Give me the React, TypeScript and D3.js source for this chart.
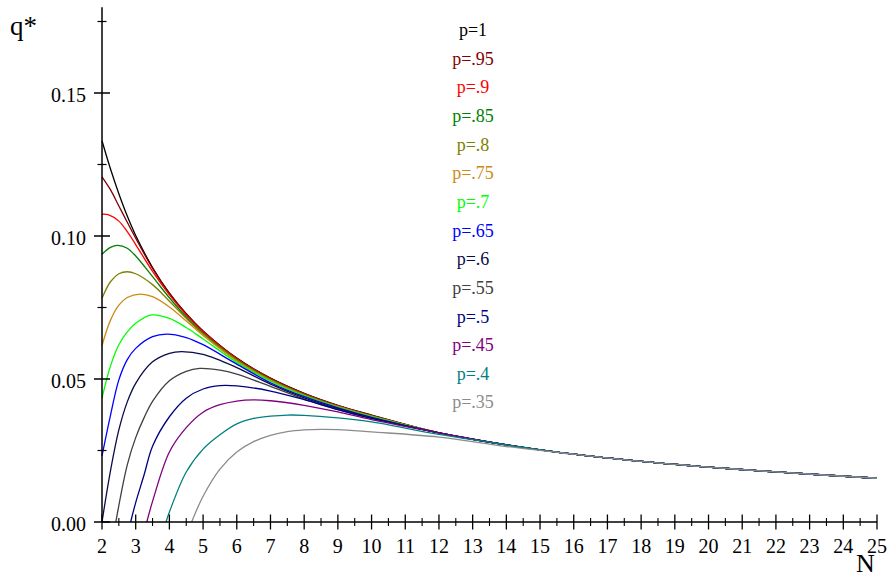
import React from "react";
import * as d3 from "d3";

type Pt = [number, number];

const legendLabels = ["p=1", "p=.95", "p=.9", "p=.85", "p=.8", "p=.75", "p=.7", "p=.65", "p=.6", "p=.55", "p=.5", "p=.45", "p=.4", "p=.35"];
const colors = ["#000000", "#800000", "#ff0000", "#008000", "#808000", "#cc8a14", "#00ff00", "#0000ff", "#0a0a4a", "#404040", "#000080", "#800080", "#008080", "#8c8c8c"];

const p100: Pt[] = [[2, .1333], [2.25, .1235], [2.5, .1148], [2.75, .1070], [3, .1002], [3.5, .0890], [4, .0800], [4.5, .0728], [5, .0668], [6, .0573], [7, .0503], [8, .0450], [9, .0408], [10, .0374]];
const p095: Pt[] = [[2, .1207], [2.25, .1162], [2.5, .1105], [2.75, .1048], [3, .0992], [3.5, .0887], [4, .0799], [4.5, .0727], [5, .0667], [6, .0572], [7, .0502], [8, .0449], [9, .0407], [10, .0373]];
const p090: Pt[] = [[2, .1076], [2.2, .1074], [2.5, .1052], [2.75, .1015], [3, .0970], [3.5, .0876], [4, .0794], [4.5, .0724], [5, .0665], [6, .0571], [7, .0501], [8, .0448], [9, .0406], [10, .0372]];
const p085: Pt[] = [[2, .0936], [2.25, .0960], [2.47, .0967], [2.75, .0957], [3, .0930], [3.5, .0858], [4, .0784], [4.5, .0717], [5, .0660], [6, .0568], [7, .0499], [8, .0446], [9, .0405], [10, .0371]];
const p080: Pt[] = [[2, .0782], [2.25, .0840], [2.5, .0868], [2.75, .0875], [3, .0868], [3.5, .0830], [4, .0772], [4.5, .0712], [5, .0657], [6, .0566], [7, .0497], [8, .0445], [9, .0404], [10, .0370]];
const p075: Pt[] = [[2, .0617], [2.25, .0705], [2.5, .0758], [2.75, .0785], [3.13, .0797], [3.5, .0788], [4, .0752], [4.5, .0703], [5, .0652], [6, .0563], [7, .0495], [8, .0443], [9, .0403], [10, .0369]];
const p070: Pt[] = [[2, .0433], [2.25, .0545], [2.5, .0620], [2.75, .0665], [3, .0695], [3.47, .0724], [4, .0712], [4.5, .0680], [5, .0640], [6, .0558], [7, .0492], [8, .0441], [9, .0401], [10, .0368]];
const p065: Pt[] = [[2, .0231], [2.25, .0372], [2.5, .0497], [2.75, .0568], [3, .0607], [3.5, .0648], [3.92, .0657], [4.5, .0645], [5, .0620], [6, .0552], [7, .0487], [8, .0438], [9, .0399], [10, .0366]];
const p060: Pt[] = [[2, 0], [2.25, .0178], [2.5, .0322], [2.75, .0420], [3, .0485], [3.5, .0560], [4, .0590], [4.36, .0596], [5, .0586], [6, .0540], [7, .0482], [8, .0434], [9, .0396], [10, .0364]];
const p055: Pt[] = [[2.41, 0], [2.75, .0200], [3, .0295], [3.25, .0365], [3.5, .0422], [4, .0494], [4.5, .0527], [4.9, .0537], [5.5, .0531], [6, .0517], [7, .0474], [8, .0430], [9, .0393], [10, .0362]];
const p050: Pt[] = [[2.85, 0], [3, .0068], [3.25, .0165], [3.5, .0265], [4, .0368], [4.5, .0433], [5, .0465], [5.5, .0477], [6, .0476], [7, .0458], [8, .0428], [9, .0393], [10, .0362]];
const p045: Pt[] = [[3.33, 0], [3.5, .0072], [4, .0245], [4.5, .0330], [5, .0384], [5.5, .0410], [6, .0423], [6.5, .0427], [7, .0424], [8, .0408], [9, .0385], [10, .0358]];
const p040: Pt[] = [[3.9, 0], [4, .0035], [4.5, .0175], [5, .0255], [5.5, .0305], [6, .0343], [6.5, .0362], [7, .0370], [7.5, .0374], [8, .0373], [9, .0364], [10, .0350], [12, .0306]];
const p035: Pt[] = [[4.66, 0], [5, .0090], [5.5, .0185], [6, .0245], [6.5, .0281], [7, .0303], [7.5, .0316], [8, .0322], [8.5, .0324], [9, .0323], [10, .0315], [12, .0297], [14, .0264]];

const sharedTail: Pt[] = [[12, .0312], [14, .0270], [16, .0237], [18, .0212], [20, .0192], [22, .0175], [25, .0153]];

const series: Pt[][] = [p100, p095, p090, p085, p080, p075, p070, p065, p060, p055, p050, p045, p040, p035];

const xMajor = d3.range(2, 26, 1);
const xMinor = d3.range(2.5, 25, 1);
const yMajor = [0, 0.05, 0.1, 0.15];
const yMinor = [0.025, 0.075, 0.125, 0.175];

const W = 888, H = 575;
const FONT = "'Liberation Serif', 'Times New Roman', serif";

export default function App() {
  const x = d3.scaleLinear().domain([2, 25]).range([102, 877]);
  const y = d3.scaleLinear().domain([0, 0.18]).range([522, 7.2]);
  const line = d3.line<Pt>().x(d => x(d[0])).y(d => y(d[1])).curve(d3.curveCatmullRom.alpha(0.5));

  const full = series.map(s => {
    const last = s[s.length - 1][0];
    return s.concat(sharedTail.filter(t => t[0] > last));
  });

  const x0 = x(2), y0 = y(0);

  return (
    <svg width={W} height={H} style={{ position: "absolute", left: 0, top: 0, background: "#fff" }} fontFamily={FONT}>
      <rect x={0} y={0} width={W} height={H} fill="#fff" />
      {full.map((s, i) => (
        <path key={i} d={line(s) || ""} fill="none" stroke={colors[i]} strokeWidth={1.3} />
      ))}
      {/* y axis */}
      <line x1={x0} x2={x0} y1={y(0.18)} y2={y0} stroke="#000" strokeWidth={1.5} />
      {yMajor.map(v => (
        <g key={"ym" + v}>
          <line x1={x0 - 8} x2={x0 + 8} y1={y(v)} y2={y(v)} stroke="#000" strokeWidth={1.5} />
          <text x={86} y={y(v) + 9} textAnchor="end" fontSize={20} fill="#000">{v.toFixed(2)}</text>
        </g>
      ))}
      {yMinor.map(v => (
        <line key={"yn" + v} x1={x0 - 4.5} x2={x0 + 4.5} y1={y(v)} y2={y(v)} stroke="#000" strokeWidth={1.2} />
      ))}
      {/* x axis */}
      <line x1={x0} x2={x(25)} y1={y0} y2={y0} stroke="#000" strokeWidth={1.5} />
      {xMajor.map(v => (
        <g key={"xm" + v}>
          <line x1={x(v)} x2={x(v)} y1={y0 - 7.5} y2={y0 + 7.5} stroke="#000" strokeWidth={1.3} />
          <text x={x(v)} y={553} textAnchor="middle" fontSize={20} fill="#000">{v}</text>
        </g>
      ))}
      {xMinor.map(v => (
        <line key={"xn" + v} x1={x(v)} x2={x(v)} y1={y0 - 4} y2={y0 + 4} stroke="#000" strokeWidth={1.1} />
      ))}
      <text x={10} y={35} fontSize={27} fill="#000">q*</text>
      <text x={856} y={572} fontSize={26} fill="#000">N</text>
      {legendLabels.map((l, i) => (
        <text key={l} x={473} y={36 + i * 28.65} textAnchor="middle" fontSize={18} fill={colors[i]}>{l}</text>
      ))}
    </svg>
  );
}
